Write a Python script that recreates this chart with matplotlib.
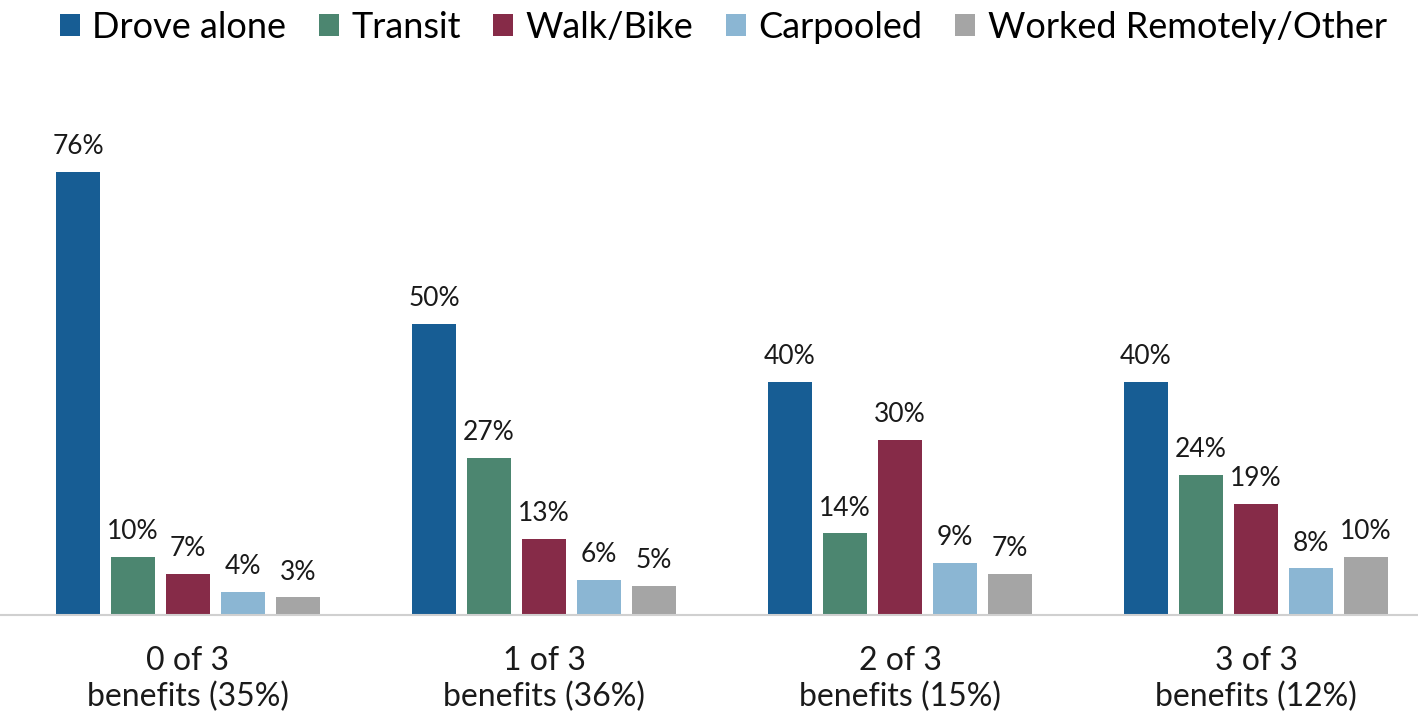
import numpy as np
import matplotlib.pyplot as plt

plt.rcParams["font.family"] = ["Lato", "DejaVu Sans"]

groups = ["0 of 3\nbenefits (35%)", "1 of 3\nbenefits (36%)",
          "2 of 3\nbenefits (15%)", "3 of 3\nbenefits (12%)"]
modes = ["Drove alone", "Transit", "Walk/Bike", "Carpooled", "Worked Remotely/Other"]
colors = ["#175D94", "#4C8670", "#862B48", "#8BB6D3", "#A5A5A5"]

drove = [76, 50, 40, 40]
transit = [10, 27, 14, 24]
walk = [7, 13, 30, 19]
carpool = [4, 6, 9, 8]
other = [3, 5, 7, 10]
series = [drove, transit, walk, carpool, other]

fig = plt.figure(figsize=(14.18, 7.18), dpi=100)
ax = fig.add_axes([0.0, 0.1435, 1.0, 0.69])

x = np.arange(len(groups))
slot = 0.1545
width = 0.1236
for i, (vals, name, c) in enumerate(zip(series, modes, colors)):
    pos = x + (i - 2) * slot
    bars = ax.bar(pos, vals, width, color=c, label=name)
    for b, v in zip(bars, vals):
        ax.text(b.get_x() + b.get_width() / 2, v + 2.2, f"{v}%",
                ha="center", va="bottom", fontsize=19, color="#1a1a1a")

ax.set_xlim(-0.528, 3.455)
ax.set_ylim(0, 85)
ax.set_yticks([])
ax.set_xticks(x)
ax.set_xticklabels(groups, fontsize=23, color="#1a1a1a", linespacing=1.25)
ax.tick_params(axis="x", length=0, pad=22)
for s in ["top", "right", "left"]:
    ax.spines[s].set_visible(False)
ax.spines["bottom"].set_color("#D0D0D0")
ax.spines["bottom"].set_linewidth(1.5)

fig.legend(loc="upper center", bbox_to_anchor=(0.51, 1.02), ncol=5, frameon=False,
           fontsize=26, handlelength=0.55, handleheight=0.55, handletextpad=0.35,
           columnspacing=0.9, borderaxespad=0.3)

fig.savefig("out.png", dpi=100)
